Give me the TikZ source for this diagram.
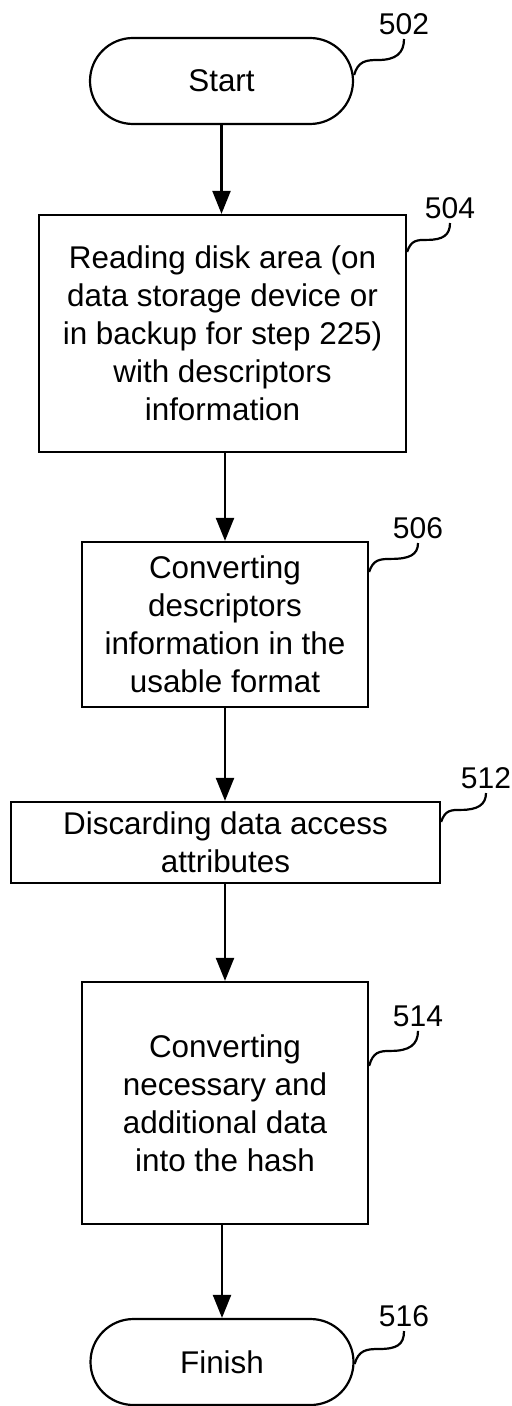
\documentclass[tikz,border=0pt]{standalone}
\usepackage{fontspec}
\setmainfont{Liberation Sans}
\usetikzlibrary{arrows.meta}

\newcommand{\figfont}{\fontsize{15.7}{19}\selectfont}

\tikzset{
  terminal/.style={draw, line width=1.1pt, rounded corners=21.5pt,
    minimum width=131.5pt, minimum height=43pt, font=\figfont},
  stepbox/.style={draw, line width=1.1pt, align=center, font=\figfont},
  flow/.style={-{Triangle[length=11.5pt,width=9pt]}, line width=1.1pt},
  leader/.style={line width=1.1pt},
  refnum/.style={font=\fontsize{15}{18}\selectfont, inner sep=2pt},
}

\begin{document}
\begin{tikzpicture}[x=0.5pt,y=-0.5pt]
            \useasboundingbox (0,0) rectangle (512,1406);

            % Steps of the flow
            \node[terminal] (start) at (221.5,81) {Start};
            \node[stepbox, minimum width=183.5pt, minimum height=118.5pt] (read) at (222.5,333.5)
                {Reading disk area (on\\data storage device or\\in backup for step 225)\\with descriptors\\information};
            \node[stepbox, minimum width=143pt, minimum height=82.5pt] (conv) at (225,624.5)
                {Converting\\descriptors\\information in the\\usable format};
            \node[stepbox, minimum width=214.5pt, minimum height=40.5pt] (discard) at (225.5,842.5)
                {Discarding data access\\attributes};
            \node[stepbox, minimum width=143pt, minimum height=121pt] (hash) at (225,1103)
                {Converting\\necessary and\\additional data\\into the hash};
            \node[terminal] (finish) at (222,1362) {Finish};

            % Arrows between the steps
            \draw[flow] (start.south) -- (start.south |- read.north);
            \draw[flow] (conv.north |- read.south) -- (conv.north);
            \draw[flow] (conv.south) -- (conv.south |- discard.north);
            \draw[flow] (hash.north |- discard.south) -- (hash.north);
            \draw[flow] (finish.north |- hash.south) -- (finish.north);

            % Reference numerals
            \node[refnum] (n502) at (404,24) {502};
            \node[refnum] (n504) at (450,208) {504};
            \node[refnum] (n506) at (418,528) {506};
            \node[refnum] (n512) at (486,778) {512};
            \node[refnum] (n514) at (418,1016) {514};
            \node[refnum] (n516) at (404,1316) {516};

            % Curly leaders from the boxes to the numerals
            \draw[leader] ([yshift=3pt]start.east) .. controls +(4,-14) and +(-12,0) .. ++(24,-15)
                .. controls +(18,0) and +(0,14) .. (n502.south);
            \draw[leader] ([yshift=-19pt]read.north east) .. controls +(4,-12) and +(-10,0) .. ++(20,-12)
                .. controls +(16,0) and +(0,12) .. (n504.south);
            \draw[leader] ([yshift=-15.5pt]conv.north east) .. controls +(4,-12) and +(-12,0) .. ++(22,-13)
                .. controls +(18,0) and +(0,12) .. (n506.south);
            \draw[leader] ([yshift=-10.5pt]discard.north east) .. controls +(4,-12) and +(-10,0) .. ++(20,-12)
                .. controls +(16,0) and +(0,12) .. (n512.south);
            \draw[leader] ([yshift=-42.5pt]hash.north east) .. controls +(4,-14) and +(-12,0) .. ++(22,-15)
                .. controls +(18,0) and +(0,14) .. (n514.south);
            \draw[leader] ([yshift=-1pt]finish.east) .. controls +(4,-14) and +(-12,0) .. ++(24,-15)
                .. controls +(18,0) and +(0,14) .. (n516.south);

        \end{tikzpicture}
\end{document}
